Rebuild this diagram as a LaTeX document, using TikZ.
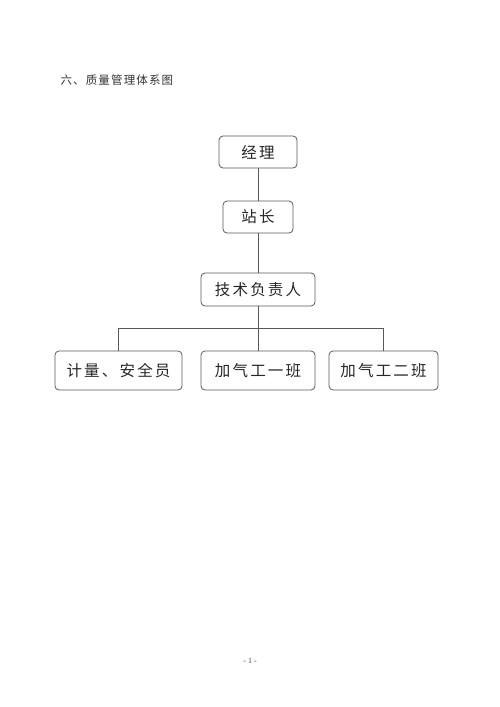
\documentclass[tikz,border=0pt]{standalone}
\usepackage{fontspec}
\usepackage{tikz}
\usetikzlibrary{positioning, calc}
\setmainfont{Liberation Serif}
\newfontfamily\cjk{Noto Sans CJK SC}
\newfontfamily\cjkbox[LetterSpace=14]{Noto Sans CJK SC}
\newfontfamily\cjktitle[LetterSpace=10]{Noto Sans CJK SC}
\tikzset{
   orgbox/.style={draw=black!65, line width=.8pt, rounded corners=4pt, fill=white,
      inner sep=0pt, minimum height=32pt, font=\cjkbox\fontsize{15.5}{18}\selectfont, text=black!85},
   lowbox/.style={orgbox, minimum height=39pt},
   orgline/.style={draw=black!65, line width=.8pt}
}

\begin{document}
\begin{tikzpicture}[x=1pt, y=-1pt]
      \useasboundingbox[fill=white] (0,0) rectangle (500,707);
      % title and page number
      \node[anchor=west, font=\cjktitle\fontsize{11.5}{13}\selectfont, text=black!80] (title) at (57,80) {六、质量管理体系图};
      \node[font=\fontsize{8}{9}\selectfont, text=black!70] (page) at (250,661) {- 1 -};
      % chain
      \node[orgbox, minimum width=78pt] (jingli) at (258,152) {经理};
      \node[orgbox, minimum width=70pt] (zhanzhang) at (258,217) {站长};
      \node[orgbox, minimum width=114pt, minimum height=33pt] (jishu) at (258,289.5) {技术负责人};
      % lower row
      \node[lowbox, minimum width=114pt] (ban1) at (258,370.5) {加气工一班};
      \node[lowbox, minimum width=127pt] (jiliang) at (118.5,370.5) {计量、安全员};
      \node[lowbox, minimum width=109pt] (ban2) at (383.5,370.5) {加气工二班};
      \coordinate (bus) at (258,328);
      \coordinate (busL) at (jiliang.north |- bus);
      \coordinate (busR) at (ban2.north |- bus);
      \draw[orgline] (jingli) -- (zhanzhang);
      \draw[orgline] (zhanzhang) -- (jishu);
      \draw[orgline] (jishu) -- (ban1);
      \draw[orgline] (jiliang.north) -- (busL) -- (busR) -- (ban2.north);
\end{tikzpicture}
\end{document}
